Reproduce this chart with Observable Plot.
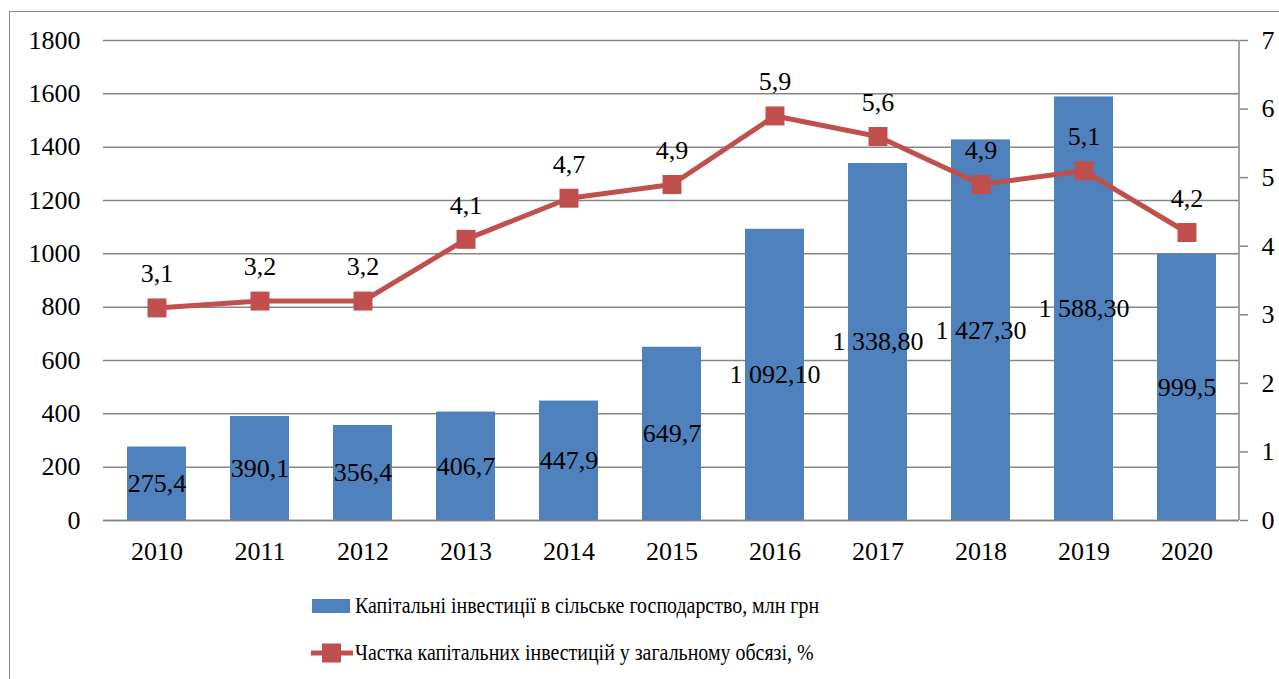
<!DOCTYPE html>
<html><head><meta charset="utf-8">
<script src="https://cdn.jsdelivr.net/npm/d3@7"></script>
<script src="https://cdn.jsdelivr.net/npm/@observablehq/plot@0.6"></script>
<style>
body{margin:0;padding:0;background:#fff;font-family:'Liberation Serif','Times New Roman',serif;}
#wrap{position:relative;width:1279px;height:679px;overflow:hidden;}
#frame{position:absolute;left:9px;top:11px;width:1400px;height:800px;border-left:1.5px solid #8c8c8c;border-top:1.5px solid #8c8c8c;}
#chart{position:absolute;left:0;top:0;}
.row{position:absolute;white-space:nowrap;font-size:24px;line-height:1;font-family:'Liberation Serif','Times New Roman',serif;color:#000;}
.lt{display:inline-block;transform-origin:0 50%;transform:scaleX(0.83);}
</style></head>
<body>
<div id="wrap">
<div id="frame"></div>
<div id="chart"></div>
<div id="legend"></div>
</div>
<script>
const years = ["2010","2011","2012","2013","2014","2015","2016","2017","2018","2019","2020"];
const investments = [275.4, 390.1, 356.4, 406.7, 447.9, 649.7, 1092.1, 1338.8, 1427.3, 1588.3, 999.5];
const shares = [3.1, 3.2, 3.2, 4.1, 4.7, 4.9, 5.9, 5.6, 4.9, 5.1, 4.2];
const leftTicks = [0, 200, 400, 600, 800, 1000, 1200, 1400, 1600, 1800];
const rightTicks = [0, 1, 2, 3, 4, 5, 6, 7];
const seriesNames = ["Капітальні інвестиції в сільське господарство, млн грн", "Частка капітальних інвестицій  у загальному обсязі, %"];

const LEFT_MAX = 1800, RIGHT_MAX = 7;
const k = LEFT_MAX / RIGHT_MAX;
const BLUE = "#4F81BD", RED = "#C0504D", GRID = "#868686";
const FONT = "'Liberation Serif', 'Times New Roman', serif";

const data = years.map((y, i) => ({year: y, inv: investments[i], share: shares[i]}));

function fmtInv(v) {
  if (v >= 1000) {
    const s = v.toFixed(2);
    const [int, dec] = s.split(".");
    return int.slice(0, int.length - 3) + " " + int.slice(-3) + "," + dec;
  }
  return v.toFixed(1).replace(".", ",");
}
const fmtShare = v => v.toFixed(1).replace(".", ",");

const W = 1279, H = 575;
const mL = 103, mR = 40, mT = 40, mB = 55;

function rightLine(index, scales, values, dims) {
  const g = d3.create("svg:g");
  const xr = dims.width - dims.marginRight;
  g.append("line").attr("x1", xr).attr("x2", xr)
    .attr("y1", dims.marginTop).attr("y2", dims.height - dims.marginBottom)
    .attr("stroke", GRID).attr("stroke-width", 1.5);
  return g.node();
}

const chart = Plot.plot({
  width: W, height: H,
  marginLeft: mL, marginRight: mR, marginTop: mT, marginBottom: mB,
  style: {fontFamily: FONT, fontSize: "26px", color: "#000", background: "transparent", overflow: "visible"},
  x: {type: "band", domain: years, paddingInner: 0.43, paddingOuter: 0.215, label: null},
  y: {domain: [0, LEFT_MAX], label: null},
  marks: [
    Plot.ruleY(leftTicks, {stroke: GRID, strokeWidth: 1.5}),
    Plot.barY(data, {x: "year", y: "inv", fill: BLUE}),
    Plot.ruleY([0], {stroke: GRID, strokeWidth: 1.5}),
    rightLine,
    Plot.axisY({anchor: "left", ticks: leftTicks, tickFormat: d => String(d), tickSize: 0, tickPadding: 23, fontSize: 26, fontFamily: FONT, label: null}),
    Plot.axisY({anchor: "right", ticks: rightTicks.map(t => t * k), tickFormat: d => String(Math.round(d / k)), tickSize: 8, tickPadding: 14, fontSize: 26, fontFamily: FONT, stroke: GRID, strokeWidth: 1.5, label: null}),
    Plot.axisX({anchor: "bottom", tickSize: 0, tickPadding: 21, fontSize: 26, fontFamily: FONT, label: null}),
    Plot.text(data, {x: "year", y: d => d.inv / 2, text: d => fmtInv(d.inv), fontSize: 26, fontFamily: FONT, fill: "#000"}),
    Plot.line(data, {x: "year", y: d => d.share * k, stroke: RED, strokeWidth: 5}),
    Plot.dot(data, {x: "year", y: d => d.share * k, symbol: "square", r: 10.7, fill: RED, stroke: "none"}),
    Plot.text(data, {x: "year", y: d => d.share * k, text: d => fmtShare(d.share), dy: -34, fontSize: 26, fontFamily: FONT, fill: "#000"})
  ]
});
document.getElementById("chart").appendChild(chart);

// Legend (HTML below the plot area)
const legend = d3.select("#legend");
const r1 = legend.append("div").attr("class", "row").style("left", "312px").style("top", "593px");
r1.append("span").style("display", "inline-block").style("width", "38px").style("height", "14px")
  .style("background", BLUE).style("vertical-align", "middle").style("margin-right", "5px").style("position", "relative").style("top", "-1px");
r1.append("span").attr("class", "lt").text(seriesNames[0]);

const r2 = legend.append("div").attr("class", "row").style("left", "310px").style("top", "640px");
const sw = r2.append("svg").attr("width", 44).attr("height", 24).style("vertical-align", "middle").style("margin-right", "1px").style("position", "relative").style("top", "-1px");
sw.append("line").attr("x1", 1).attr("x2", 43).attr("y1", 12).attr("y2", 12).attr("stroke", RED).attr("stroke-width", 5);
sw.append("rect").attr("x", 12).attr("y", 2.5).attr("width", 19).attr("height", 19).attr("fill", RED);
r2.append("span").attr("class", "lt").text(seriesNames[1]);
</script>
</body></html>
